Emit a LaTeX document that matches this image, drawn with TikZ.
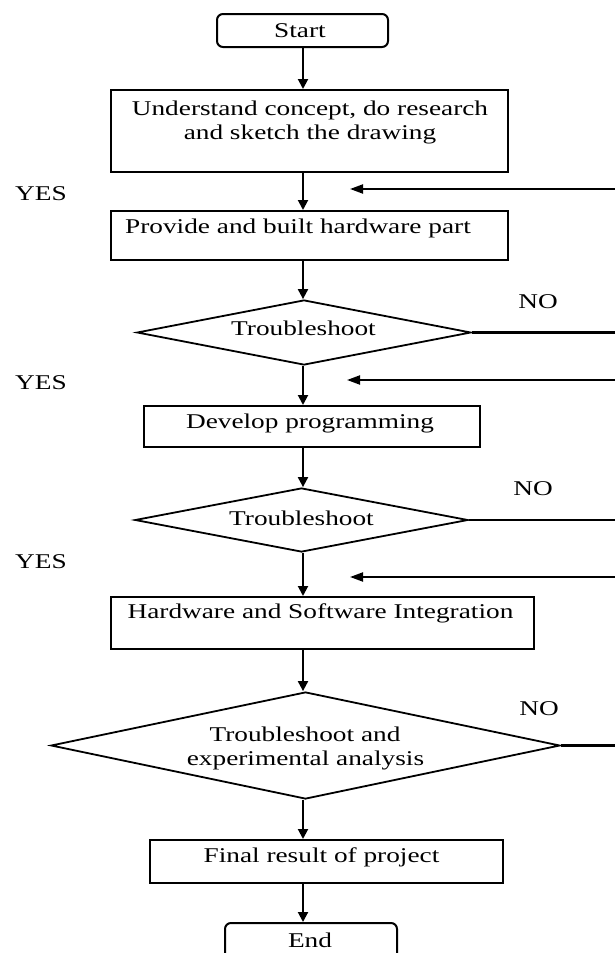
\documentclass[tikz,border=0pt]{standalone}
\usepackage{fontspec}
\setmainfont[FakeStretch=1.3]{Liberation Serif}
\usetikzlibrary{shapes.geometric,arrows.meta}
\begin{document}
\begin{tikzpicture}[x=0.5pt,y=-0.5pt,
  box/.style={draw, line width=1pt, inner sep=0pt, anchor=north west},
  rbox/.style={box, rounded corners=3pt},
  dia/.style={draw, diamond, line width=0.9pt, inner sep=0pt, aspect=5},
  txt/.style={inner sep=0pt, anchor=base, font=\fontsize{10.5}{12.5}\selectfont},
  flow/.style={line width=1pt, -{Triangle[length=5pt,width=5pt]}},
  back/.style={line width=1pt, -{Triangle[length=6.5pt,width=4.5pt]}},
  noline/.style={line width=1.1pt}
]
\useasboundingbox (0,0) rectangle (615,953);
\clip (0,0) rectangle (615,953);
\coordinate (col) at (303,0);

% shapes
\node[rbox, minimum width=85.5pt, minimum height=16.5pt] (start) at (216,13) {};
\node[box, minimum width=198.5pt, minimum height=41pt] (b1) at (110,89) {};
\node[box, minimum width=198.5pt, minimum height=24.5pt] (b2) at (110,210) {};
\node[dia, minimum width=167pt, minimum height=32.5pt] (d1) at (304,332.5) {};
\node[box, minimum width=168pt, minimum height=20.5pt] (b3) at (143,405) {};
\node[dia, minimum width=166.5pt, minimum height=32pt] (d2) at (301.5,520) {};
\node[box, minimum width=211.5pt, minimum height=26pt] (b4) at (110,596) {};
\node[dia, minimum width=254.5pt, minimum height=53.5pt] (d3) at (305.5,745.5) {};
\node[box, minimum width=176.5pt, minimum height=21.5pt] (b5) at (149,839) {};
\node[rbox, minimum width=86pt, minimum height=25pt] (end) at (224,922) {};

% texts
\node[txt] (tstart) at (300,37) {Start};
\node[txt] (t1a) at (310,115) {Understand concept, do research};
\node[txt] (t1b) at (310,139) {and sketch the drawing};
\node[txt] (t2) at (298,233) {Provide and built hardware part};
\node[txt] (td1) at (303.5,335) {Troubleshoot};
\node[txt] (t3) at (310,428) {Develop programming};
\node[txt] (td2) at (301.5,525) {Troubleshoot};
\node[txt] (t4) at (320.5,618) {Hardware and Software Integration};
\node[txt] (td3a) at (305,741) {Troubleshoot and};
\node[txt] (td3b) at (305.5,765) {experimental analysis};
\node[txt] (t5) at (321.5,862) {Final result of project};
\node[txt] (tend) at (310,947) {End};

\node[txt] (yes1) at (41,200) {YES};
\node[txt] (yes2) at (41,389) {YES};
\node[txt] (yes3) at (41,568) {YES};
\node[txt] (no1) at (538,308) {NO};
\node[txt] (no2) at (533,495) {NO};
\node[txt] (no3) at (539,715) {NO};

% main flow
\draw[flow] (start.south -| col) -- (b1.north -| col);
\draw[flow] (b1.south -| col) -- (b2.north -| col);
\draw[flow] (b2.south -| col) -- (d1.north -| col);
\draw[flow] (d1.south -| col) -- (b3.north -| col);
\draw[flow] (b3.south -| col) -- (d2.north -| col);
\draw[flow] (d2.south -| col) -- (b4.north -| col);
\draw[flow] (b4.south -| col) -- (d3.north -| col);
\draw[flow] (d3.south -| col) -- (b5.north -| col);
\draw[flow] (b5.south -| col) -- (end.north -| col);

% NO branches leaving to the right edge
\coordinate (e1) at (615,332.5);
\coordinate (e2) at (615,520);
\coordinate (e3) at (615,745.5);
\draw[noline] (d1.east) -- (e1);
\draw[noline] (d2.east) -- (e2);
\draw[noline] (d3.east) -- (e3);

% return arrows coming in from the right edge
\coordinate (r1) at (615,189);  \coordinate (k1) at (350,189);
\coordinate (r2) at (615,380);  \coordinate (k2) at (347,380);
\coordinate (r3) at (615,577);  \coordinate (k3) at (350,577);
\draw[back] (r1) -- (k1);
\draw[back] (r2) -- (k2);
\draw[back] (r3) -- (k3);
\end{tikzpicture}
\end{document}
